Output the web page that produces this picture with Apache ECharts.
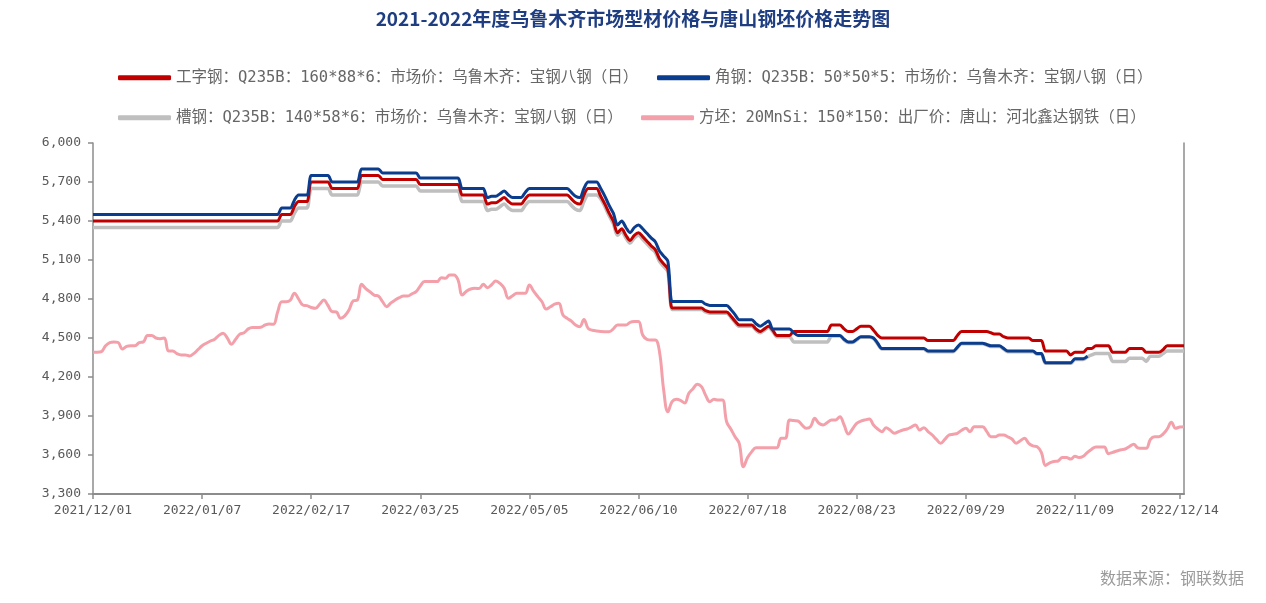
<!DOCTYPE html>
<html>
<head>
<meta charset="utf-8">
<title>chart</title>
<script src="https://cdn.jsdelivr.net/npm/echarts@6/dist/echarts.min.js"></script>
<style>
html,body{margin:0;padding:0;background:#fff;}
#chart{width:1266px;height:603px;}
</style>
</head>
<body>
<div id="chart"></div>
<script>
// Trading days (categories), listed per month
const monthDays = [
  ["2021/12", [1,2,3,6,7,8,9,10,13,14,15,16,17,20,21,22,23,24,27,28,29,30,31]],
  ["2022/01", [4,5,6,7,10,11,12,13,14,17,18,19,20,21,24,25,26,27,28,29,30]],
  ["2022/02", [7,8,9,10,11,14,15,16,17,18,21,22,23,24,25,28]],
  ["2022/03", [1,2,3,4,7,8,9,10,11,14,15,16,17,18,21,22,23,24,25,28,29,30,31]],
  ["2022/04", [1,2,6,7,8,11,12,13,14,15,18,19,20,21,22,24,25,26,27,28,29]],
  ["2022/05", [5,6,7,9,10,11,12,13,16,17,18,19,20,23,24,25,26,27,30,31]],
  ["2022/06", [1,2,6,7,8,9,10,13,14,15,16,17,20,21,22,23,24,27,28,29,30]],
  ["2022/07", [1,4,5,6,7,8,11,12,13,14,15,18,19,20,21,22,25,26,27,28,29]],
  ["2022/08", [1,2,3,4,5,8,9,10,11,12,15,16,17,18,19,22,23,24,25,26,29,30,31]],
  ["2022/09", [1,2,5,6,7,8,9,13,14,15,16,19,20,21,22,23,26,27,28,29,30]],
  ["2022/10", [8,9,10,11,12,13,14,17,18,19,20,21,24,25,26,27,28,31]],
  ["2022/11", [1,2,3,4,7,8,9,10,11,14,15,16,17,18,21,22,23,24,25,28,29,30]],
  ["2022/12", [1,2,5,6,7,8,9,12,13,14,15]]
];
const categories = [];
monthDays.forEach(function (m) {
  m[1].forEach(function (d) { categories.push(m[0] + "/" + (d < 10 ? "0" + d : "" + d)); });
});

// Label positions on the date axis (indices of the labelled dates)
const labelIndices = [0, 26, 52, 78, 104, 130, 156, 182, 208, 234, 259];

const seriesNames = [
  "工字钢：Q235B：160*88*6：市场价：乌鲁木齐：宝钢八钢（日）",
  "角钢：Q235B：50*50*5：市场价：乌鲁木齐：宝钢八钢（日）",
  "槽钢：Q235B：140*58*6：市场价：乌鲁木齐：宝钢八钢（日）",
  "方坯：20MnSi：150*150：出厂价：唐山：河北鑫达钢铁（日）"
];

// 工字钢 (red)
const iBeam = [
  5400,5400,5400,5400,5400,5400,5400,5400,5400,5400,
  5400,5400,5400,5400,5400,5400,5400,5400,5400,5400,
  5400,5400,5400,5400,5400,5400,5400,5400,5400,5400,
  5400,5400,5400,5400,5400,5400,5400,5400,5400,5400,
  5400,5400,5400,5400,5400,5450,5450,5450,5510,5550,
  5550,5550,5700,5700,5700,5700,5700,5650,5650,5650,
  5650,5650,5650,5650,5750,5750,5750,5750,5750,5720,
  5720,5720,5720,5720,5720,5720,5720,5720,5680,5680,
  5680,5680,5680,5680,5680,5680,5680,5680,5600,5600,
  5600,5600,5600,5600,5530,5540,5540,5560,5580,5550,
  5530,5530,5530,5570,5600,5600,5600,5600,5600,5600,
  5600,5600,5600,5600,5570,5540,5530,5600,5650,5650,
  5650,5590,5530,5460,5400,5310,5340,5290,5250,5290,
  5310,5280,5245,5210,5180,5110,5070,5030,4730,4730,
  4730,4730,4730,4730,4730,4730,4710,4700,4700,4700,
  4700,4700,4670,4630,4600,4600,4600,4600,4570,4550,
  4570,4590,4560,4520,4520,4520,4520,4550,4550,4550,
  4550,4550,4550,4550,4550,4550,4600,4600,4600,4570,
  4550,4550,4570,4590,4590,4590,4560,4520,4500,4500,
  4500,4500,4500,4500,4500,4500,4500,4500,4500,4480,
  4480,4480,4480,4480,4480,4480,4520,4550,4550,4550,
  4550,4550,4550,4550,4540,4530,4530,4510,4500,4500,
  4500,4500,4500,4500,4480,4480,4480,4400,4400,4400,
  4400,4400,4400,4370,4390,4390,4390,4420,4420,4440,
  4440,4440,4440,4390,4390,4390,4390,4420,4420,4420,
  4420,4390,4390,4390,4390,4410,4440,4440,4440,4440,4440
];

// 角钢 (navy)
const angleSteel = [
  5450,5450,5450,5450,5450,5450,5450,5450,5450,5450,
  5450,5450,5450,5450,5450,5450,5450,5450,5450,5450,
  5450,5450,5450,5450,5450,5450,5450,5450,5450,5450,
  5450,5450,5450,5450,5450,5450,5450,5450,5450,5450,
  5450,5450,5450,5450,5450,5500,5500,5500,5560,5600,
  5600,5600,5750,5750,5750,5750,5750,5700,5700,5700,
  5700,5700,5700,5700,5800,5800,5800,5800,5800,5770,
  5770,5770,5770,5770,5770,5770,5770,5770,5730,5730,
  5730,5730,5730,5730,5730,5730,5730,5730,5650,5650,
  5650,5650,5650,5650,5580,5590,5590,5610,5630,5600,
  5580,5580,5580,5620,5650,5650,5650,5650,5650,5650,
  5650,5650,5650,5650,5620,5590,5580,5650,5700,5700,
  5700,5650,5590,5520,5460,5370,5400,5350,5310,5350,
  5370,5340,5305,5270,5240,5170,5130,5090,4780,4780,
  4780,4780,4780,4780,4780,4780,4760,4750,4750,4750,
  4750,4750,4720,4680,4640,4640,4640,4640,4610,4590,
  4610,4630,4570,4570,4570,4570,4570,4540,4520,4520,
  4520,4520,4520,4520,4520,4520,4520,4520,4520,4490,
  4470,4470,4490,4510,4510,4510,4500,4460,4420,4420,
  4420,4420,4420,4420,4420,4420,4420,4420,4420,4400,
  4400,4400,4400,4400,4400,4400,4430,4460,4460,4460,
  4460,4460,4460,4450,4440,4440,4440,4420,4400,4400,
  4400,4400,4400,4400,4400,4380,4380,4310,4310,4310,
  4310,4310,4310,4310,4340,4340,4340,4360,null,null,
  null,null,null,null,null,null,null,null,null,null,
  null,null,null,null,null,null,null,null,null,null,null
];

// 槽钢 (grey)
const channelSteel = [
  5350,5350,5350,5350,5350,5350,5350,5350,5350,5350,
  5350,5350,5350,5350,5350,5350,5350,5350,5350,5350,
  5350,5350,5350,5350,5350,5350,5350,5350,5350,5350,
  5350,5350,5350,5350,5350,5350,5350,5350,5350,5350,
  5350,5350,5350,5350,5350,5400,5400,5400,5460,5500,
  5500,5500,5650,5650,5650,5650,5650,5600,5600,5600,
  5600,5600,5600,5600,5700,5700,5700,5700,5700,5670,
  5670,5670,5670,5670,5670,5670,5670,5670,5630,5630,
  5630,5630,5630,5630,5630,5630,5630,5630,5550,5550,
  5550,5550,5550,5550,5480,5490,5490,5510,5530,5500,
  5480,5480,5480,5520,5550,5550,5550,5550,5550,5550,
  5550,5550,5550,5550,5520,5490,5480,5550,5600,5600,
  5600,5570,5510,5440,5380,5290,5320,5270,5230,5270,
  5290,5260,5225,5190,5160,5090,5050,5010,4720,4720,
  4720,4720,4720,4720,4720,4720,4700,4690,4690,4690,
  4690,4690,4660,4620,4590,4590,4590,4590,4560,4540,
  4560,4580,4550,4510,4510,4510,4510,4470,4470,4470,
  4470,4470,4470,4470,4470,4470,4515,4515,4515,4485,
  4465,4465,4485,4505,4505,4505,4495,4455,4415,4415,
  4415,4415,4415,4415,4415,4415,4415,4415,4415,4395,
  4395,4395,4395,4395,4395,4395,4425,4455,4455,4455,
  4455,4455,4455,4445,4435,4435,4435,4415,4395,4395,
  4395,4395,4395,4395,4395,4375,4375,4305,4305,4305,
  4305,4305,4305,4305,4335,4335,4335,4355,4370,4380,
  4380,4380,4380,4320,4320,4320,4320,4345,4345,4345,
  4345,4320,4360,4360,4360,4380,4400,4400,4400,4400,4400
];

// 方坯 (pink)
const billet = [
  4390,4390,4395,4440,4465,4470,4465,4415,4435,4440,
  4440,4465,4470,4520,4520,4500,4495,4500,4400,4400,
  4380,4370,4370,4362,4380,4410,4440,4460,4477,4490,
  4520,4536,4500,4452,4490,4530,4540,4570,4580,4580,
  4582,4600,4608,4605,4700,4779,4779,4790,4844,4800,
  4754,4749,4735,4728,4760,4792,4750,4703,4700,4651,
  4670,4715,4785,4792,4913,4880,4856,4830,4823,4780,
  4741,4770,4792,4810,4823,4823,4840,4856,4900,4934,
  4934,4934,4934,4964,4960,4985,4985,4946,4831,4860,
  4877,4882,4880,4913,4887,4910,4938,4920,4882,4805,
  4825,4844,4844,4844,4908,4860,4818,4779,4723,4740,
  4760,4767,4677,4651,4630,4600,4587,4643,4574,4560,
  4554,4550,4549,4549,4570,4600,4600,4600,4621,4626,
  4626,4523,4490,4485,4485,4395,4100,3933,4010,4028,
  4020,4000,4075,4110,4144,4126,4060,4010,4028,4023,
  4023,3856,3800,3741,3690,3510,3580,3626,3656,3656,
  3656,3656,3656,3656,3728,3728,3869,3865,3862,3830,
  3805,3818,3882,3844,3831,3850,3869,3870,3895,3831,
  3762,3800,3844,3860,3870,3877,3831,3800,3779,3810,
  3790,3767,3780,3792,3800,3815,3831,3792,3810,3780,
  3754,3720,3690,3720,3754,3760,3767,3790,3805,3779,
  3818,3818,3818,3780,3741,3740,3754,3754,3740,3723,
  3690,3710,3728,3690,3670,3664,3620,3520,3540,3550,
  3554,3580,3580,3569,3590,3580,3590,3620,3645,3662,
  3662,3662,3610,3620,3631,3640,3646,3665,3682,3655,
  3651,3651,3720,3741,3741,3760,3800,3851,3805,3815,3818
];

// Y-axis ticks
const yMin = 3300, yMax = 6000, yStep = 300;

const colors = ["#C00000", "#0B3D8F", "#BFBFBF", "#F4A0AA"];
const monoFont = "'DejaVu Sans Mono', 'Noto Sans CJK SC', monospace";
const labelFn = function (i) { return labelIndices.indexOf(i) >= 0; };

const chart = echarts.init(document.getElementById('chart'), null, {renderer: 'canvas'});

function legendAt(name, left, top) {
  return {
    data: [name], left: left, top: top, orient: 'horizontal',
    icon: 'roundRect', itemWidth: 53, itemHeight: 5, itemGap: 8,
    selectedMode: false,
    textStyle: {color: '#666666', fontSize: 15.5, fontFamily: monoFont}
  };
}

const option = {
  animation: false,
  backgroundColor: '#ffffff',
  title: {
    text: '2021-2022年度乌鲁木齐市场型材价格与唐山钢坯价格走势图',
    left: 'center', top: 4,
    textStyle: {color: '#1F3E82', fontSize: 19, fontWeight: 'bold', fontFamily: "'Noto Sans CJK SC', sans-serif"}
  },
  legend: [
    legendAt(seriesNames[0], 113, 65),
    legendAt(seriesNames[1], 652, 65),
    legendAt(seriesNames[2], 113, 105),
    legendAt(seriesNames[3], 636, 105)
  ],
  graphic: [{
    type: 'text', right: 22, top: 570,
    style: {text: '数据来源：钢联数据', fill: '#9a9a9a', font: "16px 'Noto Sans CJK SC', sans-serif"}
  }],
  grid: {left: 93, right: 82, top: 143, bottom: 109, containLabel: false},
  xAxis: {
    type: 'category', data: categories, boundaryGap: false,
    axisLine: {show: true, lineStyle: {color: '#8c8c8c', width: 2}},
    axisTick: {show: true, interval: labelFn, length: 5, lineStyle: {color: '#8c8c8c', width: 1.5}},
    axisLabel: {interval: labelFn, color: '#595959', fontSize: 13, fontFamily: monoFont, margin: 10},
    splitLine: {show: false}
  },
  yAxis: [{
    type: 'value', min: yMin, max: yMax, interval: yStep, position: 'left',
    axisLine: {show: true, lineStyle: {color: '#8c8c8c', width: 1.5}},
    axisTick: {show: true, length: 5, lineStyle: {color: '#8c8c8c', width: 1.5}},
    axisLabel: {color: '#595959', fontSize: 13, fontFamily: monoFont, margin: 12,
      formatter: function (v) { return v.toLocaleString('en-US'); }},
    splitLine: {show: false}
  }, {
    type: 'value', min: yMin, max: yMax, interval: yStep, position: 'right',
    axisLine: {show: true, lineStyle: {color: '#8c8c8c', width: 1.5}},
    axisTick: {show: false}, axisLabel: {show: false}, splitLine: {show: false}
  }],
  series: [
    {name: seriesNames[2], type: 'line', data: channelSteel, yAxisIndex: 0, showSymbol: false, symbol: 'none',
      smooth: 0.3, lineStyle: {color: colors[2], width: 3.5}, itemStyle: {color: colors[2]}},
    {name: seriesNames[0], type: 'line', data: iBeam, yAxisIndex: 0, showSymbol: false, symbol: 'none',
      smooth: 0.3, lineStyle: {color: colors[0], width: 3}, itemStyle: {color: colors[0]}},
    {name: seriesNames[1], type: 'line', data: angleSteel, yAxisIndex: 0, showSymbol: false, symbol: 'none',
      smooth: 0.3, lineStyle: {color: colors[1], width: 3}, itemStyle: {color: colors[1]}},
    {name: seriesNames[3], type: 'line', data: billet, yAxisIndex: 0, showSymbol: false, symbol: 'none',
      smooth: 0.4, lineStyle: {color: colors[3], width: 3}, itemStyle: {color: colors[3]}}
  ]
};
chart.setOption(option);
</script>
</body>
</html>
